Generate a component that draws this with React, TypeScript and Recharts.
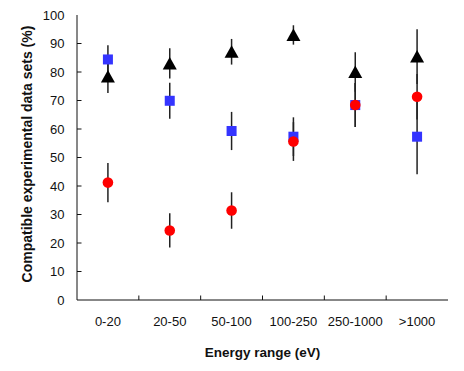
import React from 'react';
import { ScatterChart, Scatter, XAxis, YAxis, ErrorBar, Label } from 'recharts';

const categories = ['0-20', '20-50', '50-100', '100-250', '250-1000', '>1000'];
const triangleValues = [78.4, 83.0, 87.1, 93.0, 80.0, 85.4];
const triangleErrors = [5.8, 5.3, 4.5, 3.4, 6.9, 9.6];
const squareValues = [84.4, 69.9, 59.3, 57.3, 68.4, 57.3];
const squareErrors = [5.0, 6.3, 6.7, 6.8, 7.7, 13.2];
const circleValues = [41.2, 24.4, 31.4, 55.6, 68.4, 71.3];
const circleErrors = [6.9, 6.0, 6.4, 6.8, 7.7, 8.0];
const yTicks = [0, 10, 20, 30, 40, 50, 60, 70, 80, 90, 100];

const build = (vals: number[], errs: number[]) =>
  categories.map((c, i) => ({ x: i + 0.5, y: vals[i], err: errs[i], cat: c }));

const triData = build(triangleValues, triangleErrors);
const sqData = build(squareValues, squareErrors);
const circData = build(circleValues, circleErrors);

const xTicks: number[] = [];
categories.forEach((_, i) => {
  xTicks.push(i + 0.5);
  if (i < categories.length - 1) xTicks.push(i + 1);
});
const boundaryTicks = categories.slice(1).map((_, i) => i + 1);

const FONT = '"Liberation Sans", Arial, Helvetica, sans-serif';
const AX = '#111';
const TL = 4.5;

const BottomTick = (props: any) => {
  const { x, y, payload } = props;
  const v = payload.value;
  if (Number.isInteger(v)) {
    return <line x1={x} y1={y} x2={x} y2={y - TL} stroke={AX} strokeWidth={1} />;
  }
  return (
    <text x={x} y={y + 21} textAnchor="middle" dominantBaseline="central" fontFamily={FONT} fontSize={13} fill="#111">
      {categories[Math.floor(v)]}
    </text>
  );
};

const TopTick = (props: any) => {
  const { x, y } = props;
  return <line x1={x} y1={y} x2={x} y2={y + TL} stroke={AX} strokeWidth={1} />;
};

const LeftTick = (props: any) => {
  const { x, y, payload } = props;
  const v = payload.value;
  return (
    <g>
      {v > 0 && v < 100 && <line x1={x} y1={y} x2={x + TL} y2={y} stroke={AX} strokeWidth={1} />}
      <text x={x - 12.5} y={y} textAnchor="end" dominantBaseline="central" fontFamily={FONT} fontSize={13} fill="#111">
        {v}
      </text>
    </g>
  );
};

const RightTick = (props: any) => {
  const { x, y } = props;
  return <line x1={x} y1={y} x2={x - TL} y2={y} stroke={AX} strokeWidth={1} />;
};

const TriangleShape = (props: any) => {
  const { cx, cy } = props;
  const w = 7, h = 6.5;
  return <polygon points={`${cx},${cy - h} ${cx - w},${cy + h - 0.5} ${cx + w},${cy + h - 0.5}`} fill="#000" />;
};
const SquareShape = (props: any) => {
  const { cx, cy } = props;
  return <rect x={cx - 5} y={cy - 5} width={10} height={10} fill="#3434ff" />;
};
const CircleShape = (props: any) => {
  const { cx, cy } = props;
  return <circle cx={cx} cy={cy} r={5.3} fill="#ff0000" />;
};

const YTitle = (props: any) => {
  const { viewBox } = props;
  const cx = viewBox.x + 19;
  const cy = viewBox.y + viewBox.height / 2 - 3.5;
  return (
    <text x={cx} y={cy} transform={`rotate(-90, ${cx}, ${cy})`} textAnchor="middle" dominantBaseline="central"
      fontFamily={FONT} fontSize={14} fontWeight="bold" fill="#111">
      Compatible experimental data sets (%)
    </text>
  );
};

const XTitle = (props: any) => {
  const { viewBox } = props;
  return (
    <text x={viewBox.x + viewBox.width / 2} y={viewBox.y + 52} textAnchor="middle" dominantBaseline="central"
      fontFamily={FONT} fontSize={13.5} fontWeight="bold" fill="#111">
      Energy range (eV)
    </text>
  );
};

export default function App() {
  return (
    <div style={{ width: 456, height: 363 }}>
      <ScatterChart width={456} height={363} margin={{ top: 7, right: 16, bottom: 0, left: 0 }}>
        <XAxis xAxisId={0} type="number" dataKey="x" domain={[0, 6]} ticks={xTicks} interval={0}
          tickSize={0} tickMargin={0} tickLine={false} tick={<BottomTick />} height={71}
          axisLine={{ stroke: AX, strokeWidth: 1 }} allowDataOverflow>
          <Label content={<XTitle />} />
        </XAxis>
        <XAxis xAxisId="top" orientation="top" type="number" domain={[0, 6]} ticks={boundaryTicks} interval={0}
          tickSize={0} tickMargin={0} tickLine={false} tick={<TopTick />} height={0}
          axisLine={{ stroke: AX, strokeWidth: 1 }} allowDataOverflow />
        <YAxis yAxisId={0} type="number" dataKey="y" domain={[0, 100]} ticks={yTicks} interval={0}
          tickSize={0} tickMargin={0} tickLine={false} tick={<LeftTick />} width={69}
          axisLine={{ stroke: AX, strokeWidth: 1 }} allowDataOverflow>
          <Label content={<YTitle />} />
        </YAxis>
        <YAxis yAxisId="right" orientation="right" type="number" domain={[0, 100]} ticks={yTicks.slice(1, -1)} interval={0}
          tickSize={0} tickMargin={0} tickLine={false} tick={<RightTick />} width={0}
          axisLine={{ stroke: AX, strokeWidth: 1 }} allowDataOverflow />
        <Scatter data={triData} dataKey="y" shape={<TriangleShape />} isAnimationActive={false}>
          <ErrorBar dataKey="err" direction="y" width={0} stroke="#222" strokeWidth={1.5} isAnimationActive={false} />
        </Scatter>
        <Scatter data={sqData} dataKey="y" shape={<SquareShape />} isAnimationActive={false}>
          <ErrorBar dataKey="err" direction="y" width={0} stroke="#222" strokeWidth={1.5} isAnimationActive={false} />
        </Scatter>
        <Scatter data={circData} dataKey="y" shape={<CircleShape />} isAnimationActive={false}>
          <ErrorBar dataKey="err" direction="y" width={0} stroke="#222" strokeWidth={1.5} isAnimationActive={false} />
        </Scatter>
      </ScatterChart>
    </div>
  );
}
